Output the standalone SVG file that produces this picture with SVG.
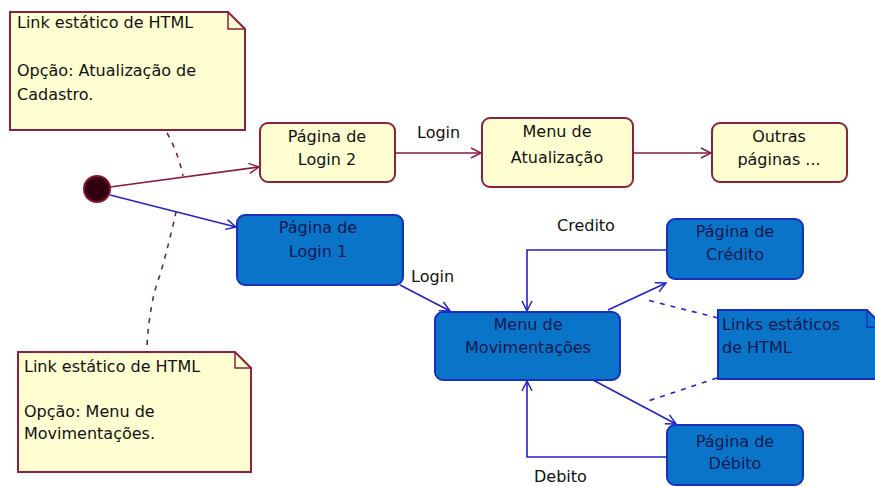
<svg xmlns="http://www.w3.org/2000/svg" width="875" height="487" viewBox="0 0 875 487">
<defs>
<style>
text{font-family:"DejaVu Sans","Liberation Sans",sans-serif;font-size:16px;fill:#111}
.yn{fill:#FFFFD2;stroke:#8B2040;stroke-width:2}
.bn{fill:#0A74C8;stroke:#1A2FC0;stroke-width:2}
.bt{fill:#0A1850;text-anchor:middle}
.yt{text-anchor:middle}
.red{fill:none;stroke:#8B1A40;stroke-width:1.6}
.blue{fill:none;stroke:#2222C8;stroke-width:1.6}
.dr{fill:none;stroke:#8B1A40;stroke-width:1.6;stroke-dasharray:5,6}
.dg{fill:none;stroke:#5A3040;stroke-width:1.6;stroke-dasharray:5,6}
.db{fill:none;stroke:#2222C8;stroke-width:1.6;stroke-dasharray:5,6}
</style>
<marker id="ar" markerWidth="12" markerHeight="12" refX="11" refY="6" orient="auto" markerUnits="userSpaceOnUse"><path d="M1,1 L11,6 L1,11" fill="none" stroke="#8B1A40" stroke-width="1.5"/></marker>
<marker id="ab" markerWidth="12" markerHeight="12" refX="11" refY="6" orient="auto" markerUnits="userSpaceOnUse"><path d="M1,1 L11,6 L1,11" fill="none" stroke="#2222C8" stroke-width="1.5"/></marker>
</defs>
<rect width="875" height="487" fill="#fff"/>
<g id="connectors">
<path class="red" d="M110,187 L259,167" marker-end="url(#ar)"/>
<path class="red" d="M395,153 L481,153" marker-end="url(#ar)"/>
<path class="red" d="M633,153 L711,153" marker-end="url(#ar)"/>
<path class="blue" d="M110,195 L236,227" marker-end="url(#ab)"/>
<path class="blue" d="M400,285 L450,311" marker-end="url(#ab)"/>
<path class="blue" d="M667,250 L527,250 L527,311" marker-end="url(#ab)"/>
<path class="blue" d="M608,310 L666,283" marker-end="url(#ab)"/>
<path class="blue" d="M593,380 L676,424" marker-end="url(#ab)"/>
<path class="blue" d="M667,457 L527,457 L527,381" marker-end="url(#ab)"/>
<path class="dr" d="M167,133 Q178,152 183,176"/>
<path class="dg" d="M147,345 Q150,300 160,275 Q170,240 176,212"/>
<path class="db" d="M718,318 L647,300"/>
<path class="db" d="M717,378 L645,402"/>
<text x="417" y="138">Login</text>
<text x="411" y="282">Login</text>
<text x="557" y="231">Credito</text>
<text x="534" y="482">Debito</text>
</g>
<g id="note1">
<path class="yn" d="M10,12 L228,12 L245,29 L245,130 L10,130 Z"/>
<path d="M228,12 L228,29 L245,29" fill="none" stroke="#8B2040" stroke-width="1.5"/>
<text x="17" y="28">Link estático de HTML</text>
<text x="17" y="76">Opção: Atualização de</text>
<text x="17" y="100">Cadastro.</text>
</g>
<g id="note2">
<path class="yn" d="M18,352 L235,352 L251,368 L251,472 L18,472 Z"/>
<path d="M235,352 L235,368 L251,368" fill="none" stroke="#8B2040" stroke-width="1.5"/>
<text x="24" y="372">Link estático de HTML</text>
<text x="24" y="417">Opção:  Menu de</text>
<text x="24" y="439">Movimentações.</text>
</g>
<g id="start">
<circle cx="97" cy="189" r="13" fill="#300010" stroke="#8B1030" stroke-width="2"/>
</g>
<g id="login2">
<rect class="yn" x="260" y="123" width="135" height="59" rx="8"/>
<text class="yt" x="327" y="142">Página de</text>
<text class="yt" x="327" y="165">Login 2</text>
</g>
<g id="menuAtualizacao">
<rect class="yn" x="482" y="118" width="151" height="69" rx="8"/>
<text class="yt" x="557" y="137">Menu de</text>
<text class="yt" x="557" y="163">Atualização</text>
</g>
<g id="outras">
<rect class="yn" x="712" y="123" width="135" height="59" rx="8"/>
<text class="yt" x="779" y="142">Outras</text>
<text class="yt" x="779" y="165">páginas ...</text>
</g>
<g id="login1">
<rect class="bn" x="237" y="215" width="166" height="70" rx="8"/>
<text class="bt" x="318" y="233">Página de</text>
<text class="bt" x="318" y="257">Login 1</text>
</g>
<g id="menuMov">
<rect class="bn" x="435" y="312" width="185" height="68" rx="8"/>
<text class="bt" x="528" y="330">Menu de</text>
<text class="bt" x="528" y="353">Movimentações</text>
</g>
<g id="credito">
<rect class="bn" x="667" y="219" width="136" height="60" rx="8"/>
<text class="bt" x="735" y="237">Página de</text>
<text class="bt" x="735" y="260">Crédito</text>
</g>
<g id="debito">
<rect class="bn" x="667" y="425" width="136" height="60" rx="8"/>
<text class="bt" x="735" y="447">Página de</text>
<text class="bt" x="735" y="469">Débito</text>
</g>
<g id="note3">
<path class="bn" d="M718,310 L867,310 L884,327 L884,379 L718,379 Z"/>
<path d="M867,310 L867,327 L884,327" fill="none" stroke="#1A2FC0" stroke-width="1.5"/>
<text x="722" y="330" style="fill:#0A1850">Links estáticos</text>
<text x="722" y="353" style="fill:#0A1850">de HTML</text>
</g>
</svg>
